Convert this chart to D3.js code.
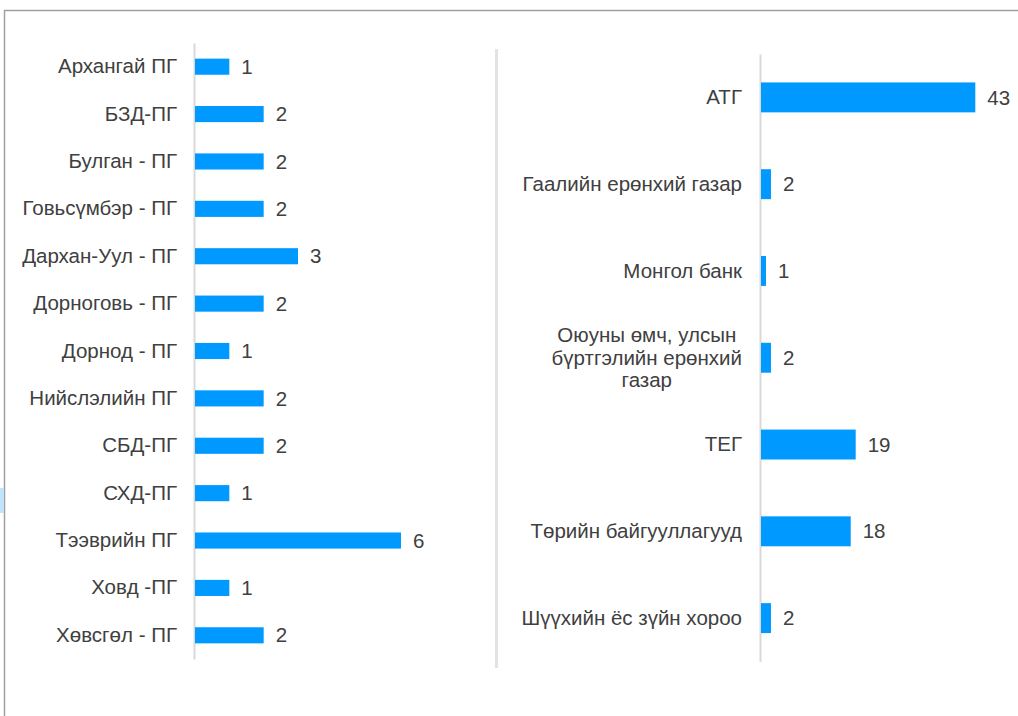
<!DOCTYPE html>
<html>
<head>
<meta charset="utf-8">
<script src="https://cdn.jsdelivr.net/npm/d3@7"></script>
<style>
  body { margin: 0; background: #fff; }
  svg text { font-family: "Liberation Sans", Arial, sans-serif; fill: #404040; }
</style>
</head>
<body>
<div id="chart"></div>
<script>
// Left panel: local governors' offices
const leftCategories = ["Архангай ПГ", "БЗД-ПГ", "Булган - ПГ", "Говьсүмбэр - ПГ", "Дархан-Уул - ПГ",
  "Дорноговь - ПГ", "Дорнод - ПГ", "Нийслэлийн ПГ", "СБД-ПГ", "СХД-ПГ", "Тээврийн ПГ", "Ховд -ПГ", "Хөвсгөл - ПГ"];
const leftValues = [1, 2, 2, 2, 3, 2, 1, 2, 2, 1, 6, 1, 2];

// Right panel: agencies
const rightCategories = ["АТГ", "Гаалийн ерөнхий газар", "Монгол банк",
  "Оюуны өмч, улсын|бүртгэлийн ерөнхий|газар", "ТЕГ", "Төрийн байгууллагууд", "Шүүхийн ёс зүйн хороо"];
const rightValues = [43, 2, 1, 2, 19, 18, 2];

const W = 1018, H = 716;
const barColor = "#0099ff";
const fs = 20.5;

const svg = d3.select("#chart")
  .append("svg")
    .attr("width", W)
    .attr("height", H);

// Frame lines
svg.append("line").attr("x1", 4).attr("x2", W).attr("y1", 10.5).attr("y2", 10.5)
  .attr("stroke", "#a0a0a0").attr("stroke-width", 1.5);
svg.append("line").attr("x1", 4.5).attr("x2", 4.5).attr("y1", 10).attr("y2", H)
  .attr("stroke", "#a0a0a0").attr("stroke-width", 1.5);
svg.append("rect").attr("x", 0).attr("y", 488).attr("width", 4).attr("height", 25)
  .attr("fill", "#bfe4fb");

// Divider between the two panels
svg.append("line").attr("x1", 496.5).attr("x2", 496.5).attr("y1", 49).attr("y2", 668)
  .attr("stroke", "#e3e3e3").attr("stroke-width", 3);

function panel(cats, vals, opts) {
  const g = svg.append("g");

  const y = d3.scaleBand()
    .domain(cats)
    .range(opts.yRange)
    .paddingInner(opts.pad)
    .paddingOuter(opts.pad / 2);

  const x = d3.scaleLinear()
    .domain([0, opts.max])
    .range(opts.xRange);

  // Category axis
  const axis = g.append("g")
    .attr("transform", `translate(${opts.xRange[0] - 1},0)`)
    .call(d3.axisLeft(y).tickSize(0).tickPadding(opts.tickPad).tickFormat(d => d.split("|")[0]));
  axis.select(".domain")
    .attr("stroke", "#d9d9d9")
    .attr("stroke-width", 2);
  axis.selectAll(".tick text")
    .style("font-size", fs + "px")
    .style("font-family", "'Liberation Sans', Arial, sans-serif")
    .attr("fill", "#404040")
    .each(function(d) {
      const lines = d.split("|");
      if (lines.length < 2) return;
      const t = d3.select(this).text(null).attr("dy", null);
      const lh = 22.5;
      lines.forEach((l, i) => {
        const dy = i === 0 ? -(lines.length - 1) / 2 * lh + 0.33 * fs : lh;
        t.append("tspan").attr("dy", dy + "px").text(l);
      });
      const maxW = d3.max(t.selectAll("tspan").nodes(), n => n.getComputedTextLength());
      const cx = -opts.tickPad - maxW / 2;
      t.attr("text-anchor", "middle").attr("x", cx);
      t.selectAll("tspan").attr("x", cx);
    });

  // Bars
  g.selectAll("rect.bar")
    .data(vals)
    .join("rect")
      .attr("class", "bar")
      .attr("x", x(0))
      .attr("y", (d, i) => y(cats[i]))
      .attr("width", d => x(d) - x(0))
      .attr("height", y.bandwidth())
      .attr("fill", barColor);

  // Value labels
  g.selectAll("text.val")
    .data(vals)
    .join("text")
      .attr("class", "val")
      .attr("x", d => x(d) + 12)
      .attr("y", (d, i) => y(cats[i]) + y.bandwidth() / 2)
      .attr("dy", "0.35em")
      .style("font-size", fs + "px")
      .text(d => d);
}

panel(leftCategories, leftValues, {
  yRange: [43, 659], pad: 0.66, xRange: [195, 401], max: 6, tickPad: 17
});

panel(rightCategories, rightValues, {
  yRange: [54, 661.5], pad: 0.655, xRange: [761, 975.3], max: 43, tickPad: 18
});
</script>
</body>
</html>
